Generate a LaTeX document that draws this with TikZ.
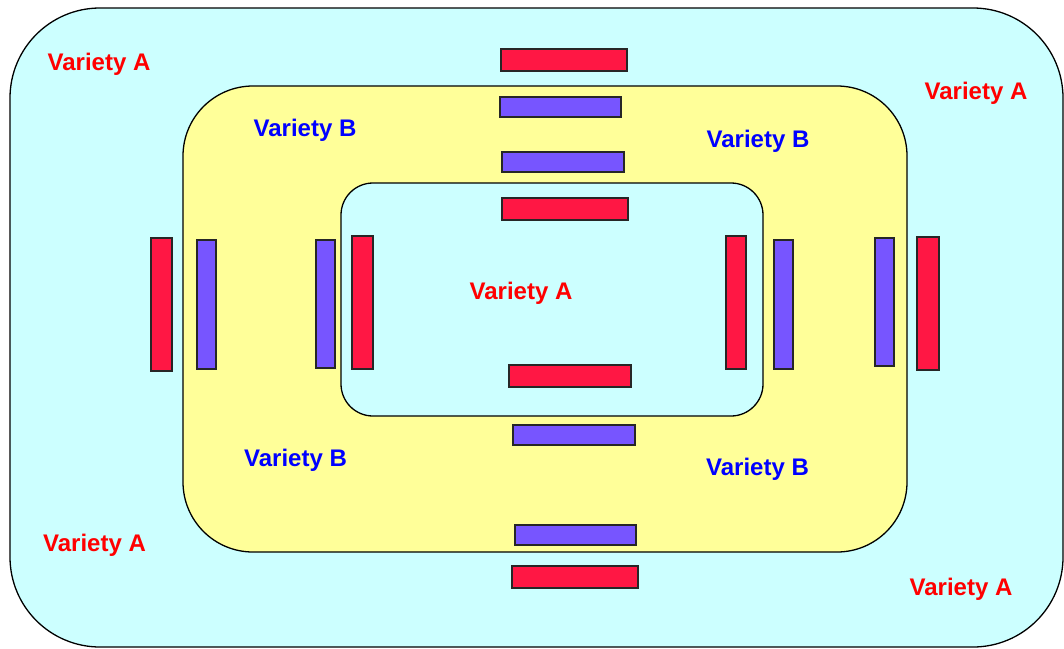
\documentclass[tikz,border=0pt]{standalone}
\usepackage{fontspec}
\setmainfont{Liberation Sans}
\definecolor{cyanbg}{HTML}{CCFFFF}
\definecolor{yellowbg}{HTML}{FFFF99}
\definecolor{barred}{HTML}{FF1744}
\definecolor{barblue}{HTML}{7755FF}
\definecolor{txtred}{HTML}{FF0000}
\definecolor{txtblue}{HTML}{0000FF}
\tikzset{
  region/.style={draw=black, line width=1.3pt},
  bar/.style={draw=black!85, line width=1.2pt, inner sep=0pt, outer sep=0pt},
  redbar/.style={bar, fill=barred},
  bluebar/.style={bar, fill=barblue},
  lab/.style={font=\fontsize{24}{28}\selectfont\bfseries, inner sep=0pt, yshift=-2pt},
  laba/.style={lab, text=txtred},
  labb/.style={lab, text=txtblue},
}
\begin{document}
\begin{tikzpicture}[x=1pt,y=-1pt]
\useasboundingbox (0,0) rectangle (1064,648);
% regions
\draw[region, fill=cyanbg, rounded corners=90pt] (10,8) rectangle (1063,647);
\draw[region, fill=yellowbg, rounded corners=70pt] (183,86) rectangle (907,552);
\draw[region, fill=cyanbg, rounded corners=32pt] (341,183) rectangle (763,416);
% red bars
\node[redbar, minimum width=126pt, minimum height=22pt] (rt1) at (564,60) {};
\node[redbar, minimum width=126pt, minimum height=22pt] (rt2) at (565,209) {};
\node[redbar, minimum width=122pt, minimum height=22pt] (rb2) at (570,376) {};
\node[redbar, minimum width=126pt, minimum height=22pt] (rb1) at (575,577) {};
\node[redbar, minimum width=21pt, minimum height=133pt] (rl1) at (161.5,304.5) {};
\node[redbar, minimum width=21pt, minimum height=133pt] (rl2) at (362.5,302.5) {};
\node[redbar, minimum width=20pt, minimum height=133pt] (rr2) at (736,302.5) {};
\node[redbar, minimum width=22pt, minimum height=133pt] (rr1) at (928,303.5) {};
% blue bars
\node[bluebar, minimum width=121pt, minimum height=20pt] (bt1) at (560.5,107) {};
\node[bluebar, minimum width=122pt, minimum height=20pt] (bt2) at (563,162) {};
\node[bluebar, minimum width=122pt, minimum height=20pt] (bb2) at (574,435) {};
\node[bluebar, minimum width=121pt, minimum height=20pt] (bb1) at (575.5,535) {};
\node[bluebar, minimum width=19pt, minimum height=129pt] (bl1) at (206.5,304.5) {};
\node[bluebar, minimum width=19pt, minimum height=128pt] (bl2) at (325.5,304) {};
\node[bluebar, minimum width=19pt, minimum height=129pt] (br2) at (783.5,304.5) {};
\node[bluebar, minimum width=19pt, minimum height=128pt] (br1) at (884.5,302) {};
% labels
\node[laba] (a1) at (99,62) {Variety A};
\node[laba] (a2) at (976,91) {Variety A};
\node[laba] (a3) at (521,291) {Variety A};
\node[laba] (a4) at (94.5,543) {Variety A};
\node[laba] (a5) at (961,587) {Variety A};
\node[labb] (b1) at (305,128) {Variety B};
\node[labb] (b2) at (758,139) {Variety B};
\node[labb] (b3) at (295.5,458) {Variety B};
\node[labb] (b4) at (757.5,467) {Variety B};
\end{tikzpicture}
\end{document}
